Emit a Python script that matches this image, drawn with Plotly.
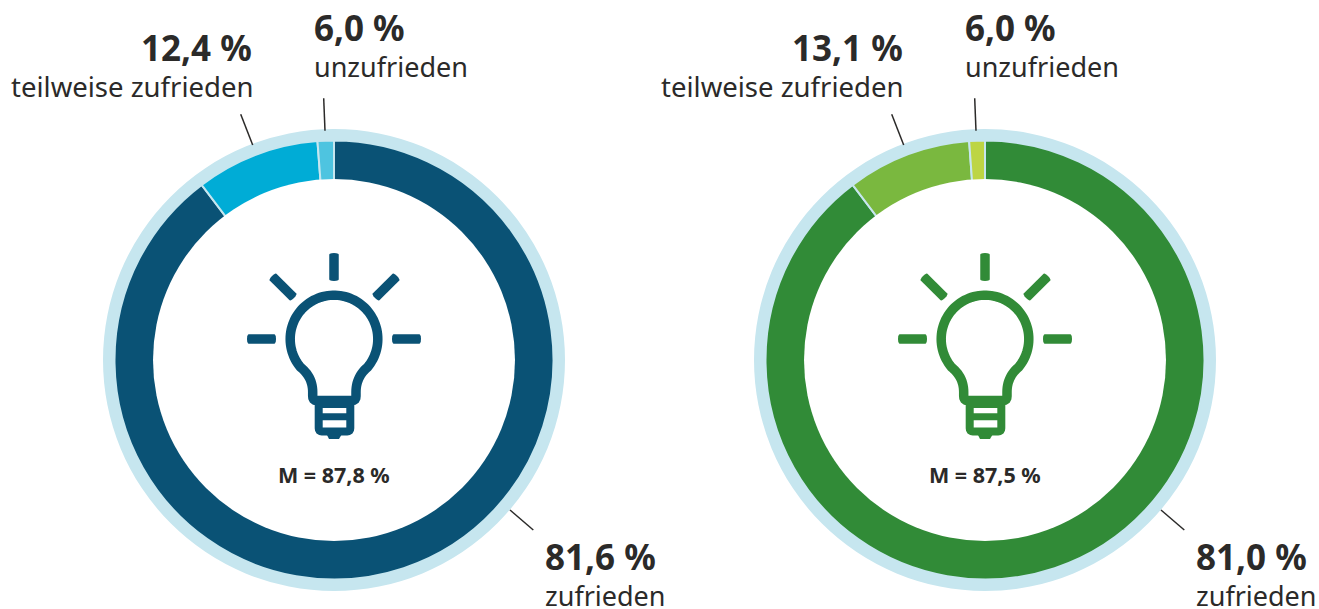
import numpy as np
import plotly.graph_objects as go

W, H = 1319, 609
FONT = "Noto Sans"
TEXT = "#2b2a29"
RING = "#c6e6ef"

segments = ["zufrieden", "teilweise zufrieden", "unzufrieden"]
slices_left = [89.7, 9.1, 1.2]
slices_right = [89.7, 9.15, 1.15]
labels_left = ["81,6 %", "12,4 %", "6,0 %"]
labels_right = ["81,0 %", "13,1 %", "6,0 %"]
means = ["M = 87,8 %", "M = 87,5 %"]
colors_left = ["#0a5275", "#00acd6", "#4ec4e0"]
colors_right = ["#318b37", "#7ab83f", "#bdd544"]

CX = [334, 985]
CY = 360
R_HALO, R_OUT, R_IN = 231, 219.5, 181


def px(x):
    return x / W


def py(y):
    return 1 - y / H


def dom(cx, r):
    return dict(x=[px(cx - r), px(cx + r)], y=[py(CY + r), py(CY - r)])


def path(points, close=False):
    s = "M" + " L".join(f"{px(x):.5f},{py(y):.5f}" for x, y in points)
    return s + (" Z" if close else "")


fig = go.Figure()
shapes, annotations = [], []


def line(points, color, width, fill=None, close=False):
    shapes.append(dict(type="path", xref="paper", yref="paper", path=path(points, close),
                       line=dict(color=color, width=width),
                       fillcolor=fill or "rgba(0,0,0,0)", layer="above"))


def pill(a, b, width, color):
    # a short bar with rounded corners
    a, b = np.array(a, float), np.array(b, float)
    d = (b - a) / np.linalg.norm(b - a)
    n = np.array([-d[1], d[0]])
    r = width / 2
    body = []
    for centre, s in ((b - d * 1.5, 1), (a + d * 1.5, -1)):
        for v in np.linspace(-np.pi / 2, np.pi / 2, 7):
            body.append(tuple(centre + s * (d * np.cos(v) * 1.5 + n * np.sin(v) * r)))
    line(body, color, 0, fill=color, close=True)


def quad(p0, c, p2, n=14):
    p0, c, p2 = map(lambda v: np.array(v, float), (p0, c, p2))
    return [tuple((1 - t) ** 2 * p0 + 2 * t * (1 - t) * c + t ** 2 * p2) for t in np.linspace(0, 1, n)]


def bulb(ox, color):
    # rays
    for a, b in [((334, 253), (334, 281)), ((247, 339), (276, 339)), ((392, 339), (421, 339)),
                 ((272, 276), (294, 298)), ((397, 276), (375, 298))]:
        pill((a[0] + ox, a[1]), (b[0] + ox, b[1]), 9.5, color)
    # glass: neck, globe and neck again, with softened bottom corners
    t = np.radians(np.linspace(-130, 130, 80))
    globe = [(334 + 43.8 * np.sin(v), 339 - 43.8 * np.cos(v)) for v in t]
    left = quad((312.7, 392), (312.7, 377), globe[0])
    right = quad(globe[-1], (356, 377), (356, 392))
    foot = quad((356, 396), (356, 400.5), (352, 400.5), 5) + quad((316.5, 400.5), (312.7, 400.5), (312.7, 396), 5)
    full = left + globe + right + foot
    line([(x + ox, y) for x, y in full], color, 9.5, close=True)
    # base
    base = quad((318.7, 404), (318.7, 404), (350.3, 404), 2) + quad((350.3, 428), (350.3, 431.5), (347, 431.5), 5) + \
        quad((322, 431.5), (318.7, 431.5), (318.7, 428), 5)
    line([(x + ox, y) for x, y in base], color, 8, close=True)
    line([(318.7 + ox, 416.7), (350.3 + ox, 416.7)], color, 7)
    line([(326 + ox, 433), (342.5 + ox, 433), (339 + ox, 439), (329 + ox, 439)], color, 0, fill=color, close=True)


def add_text(x, y, text, size, bold=False, anchor="left"):
    annotations.append(dict(xref="paper", yref="paper", x=px(x), y=py(y), text=f"<b>{text}</b>" if bold else text,
                            showarrow=False, xanchor=anchor, yanchor="middle",
                            font=dict(family=FONT, size=size, color=TEXT)))


for i, (cx, vals, cols, labs) in enumerate(zip(CX, [slices_left, slices_right],
                                               [colors_left, colors_right], [labels_left, labels_right])):
    fig.add_trace(go.Pie(values=[1], labels=["Ring"], domain=dom(cx, R_HALO), hole=R_OUT / R_HALO,
                         marker=dict(colors=[RING], line=dict(width=0)), sort=False,
                         textinfo="none", hoverinfo="skip", showlegend=False))
    fig.add_trace(go.Pie(values=vals, labels=segments, domain=dom(cx, R_OUT), hole=(R_IN - 2) / R_OUT,
                         marker=dict(colors=cols, line=dict(color=RING, width=2)), sort=False,
                         direction="clockwise", rotation=0, textinfo="none", hoverinfo="label+value", showlegend=False))
    ox = cx - CX[0]
    # clean inner edge of the ring
    shapes.append(dict(type="circle", xref="paper", yref="paper", x0=px(cx - R_IN), x1=px(cx + R_IN),
                       y0=py(CY + R_IN), y1=py(CY - R_IN), fillcolor="white", line=dict(width=0), layer="above"))
    bulb(ox, cols[0])
    add_text(cx, 474, means[i], 21.5, bold=True, anchor="center")
    # leader lines
    line([(240.7 + ox, 114.3), (252.7 + ox, 145)], TEXT, 1.5)
    line([(323.7 + ox, 98.3), (325 + ox, 130.7)], TEXT, 1.5)
    line([(510 + ox, 510), (533.3 + ox, 530)], TEXT, 1.5)
    # labels
    add_text(254 + ox, 47, labs[1], 35, bold=True, anchor="right")
    add_text(254.5 + ox, 86, segments[1], 27.5, anchor="right")
    add_text(311.5 + ox, 28, labs[2], 35, bold=True)
    add_text(311.5 + ox, 67, segments[2], 27)
    add_text(542.5 + ox, 556, labs[0], 35, bold=True)
    add_text(542.5 + ox, 595, segments[0], 27)

fig.update_layout(width=W, height=H, margin=dict(l=0, r=0, t=0, b=0), paper_bgcolor="white",
                  plot_bgcolor="white", showlegend=False, shapes=shapes, annotations=annotations)
fig.write_html("out.html", config=dict(displayModeBar=False),
               post_script="document.body.style.margin='0';document.body.style.overflow='hidden';")
